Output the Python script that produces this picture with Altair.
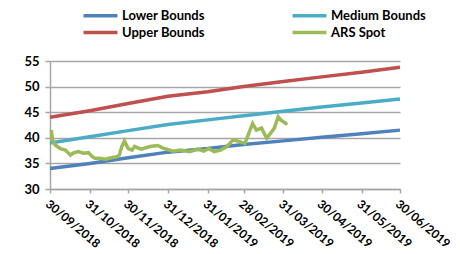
import altair as alt
import pandas as pd

month_ends = ["2018-09-30", "2018-10-31", "2018-11-30", "2018-12-31", "2019-01-31",
              "2019-02-28", "2019-03-31", "2019-04-30", "2019-05-31", "2019-06-30"]
lower_bounds = [34.0, 35.0, 36.1, 37.2, 37.9, 38.7, 39.4, 40.1, 40.8, 41.5]
medium_bounds = [39.0, 40.2, 41.4, 42.6, 43.5, 44.3, 45.2, 46.0, 46.8, 47.6]
upper_bounds = [44.0, 45.3, 46.7, 48.1, 49.0, 50.0, 51.0, 51.9, 52.8, 53.8]

spot_dates = ["2018-10-01", "2018-10-02", "2018-10-04", "2018-10-08", "2018-10-12",
              "2018-10-16", "2018-10-18", "2018-10-22", "2018-10-26", "2018-10-30",
              "2018-11-02", "2018-11-04", "2018-11-08", "2018-11-12", "2018-11-17",
              "2018-11-21", "2018-11-23", "2018-11-25", "2018-11-27", "2018-11-30",
              "2018-12-03", "2018-12-05", "2018-12-10", "2018-12-17", "2018-12-23",
              "2018-12-28", "2019-01-04", "2019-01-10", "2019-01-17", "2019-01-23",
              "2019-01-28", "2019-02-01", "2019-02-05", "2019-02-10", "2019-02-15",
              "2019-02-20", "2019-02-24", "2019-03-01", "2019-03-03", "2019-03-07",
              "2019-03-10", "2019-03-14", "2019-03-18", "2019-03-22", "2019-03-24",
              "2019-03-27", "2019-03-29", "2019-04-02", "2019-04-03"]
ars_spot = [41.5, 39.6, 38.6, 37.9, 37.6, 36.6, 37.0, 37.3, 37.0, 37.1,
            36.3, 36.0, 36.0, 35.8, 36.1, 36.3, 36.6, 38.3, 39.4, 37.9,
            37.6, 38.3, 37.8, 38.3, 38.5, 37.9, 37.4, 37.6, 37.3, 37.8,
            37.4, 37.9, 37.3, 37.6, 38.3, 39.6, 39.3, 38.9, 40.2, 42.8,
            41.5, 41.9, 39.9, 41.2, 41.9, 44.1, 43.5, 42.8, 43.0]

# legend order (column-major with 2 columns): Lower, Upper | Medium, ARS
series_names = ["Lower Bounds", "Upper Bounds", "Medium Bounds", "ARS Spot"]
series_colors = ["#4F81BD", "#C0504D", "#4BACC6", "#9BBB59"]
tick_labels_y = [30, 35, 40, 45, 50, 55]

bounds_rows = []
for name, vals in [("Lower Bounds", lower_bounds), ("Medium Bounds", medium_bounds),
                   ("Upper Bounds", upper_bounds)]:
    for d, v in zip(month_ends, vals):
        bounds_rows.append({"date": d, "value": v, "series": name})
bounds_df = pd.DataFrame(bounds_rows)
spot_df = pd.DataFrame({"date": spot_dates, "value": ars_spot, "series": "ARS Spot"})

FONT = "Lato"

x_values = []
for d in month_ends:
    y, m, dd = d.split("-")
    x_values.append(alt.DateTime(year=int(y), month=int(m), date=int(dd), utc=True))

x_enc = alt.X("date:T",
              scale=alt.Scale(type="utc", domain=[alt.DateTime(year=2018, month=9, date=30, utc=True),
                                                   alt.DateTime(year=2019, month=6, date=30, utc=True)]),
              axis=alt.Axis(values=x_values, labelExpr="utcFormat(datum.value, '%d/%m/%Y')",
                            labelAngle=40, labelAlign="left", labelBaseline="top",
                            labelFont=FONT, labelFontWeight="bold", labelFontSize=12,
                            labelColor="#000000", labelPadding=5, grid=False,
                            domainColor="#a6a6a6", domainWidth=1.5, tickColor="#a6a6a6",
                            tickWidth=1.5, tickSize=4, title=None, labelOverlap=False,
                            labelBound=False, labelFlush=False))
y_enc = alt.Y("value:Q",
              scale=alt.Scale(domain=[30, 55], nice=False, zero=False),
              axis=alt.Axis(values=tick_labels_y, labelFont=FONT, labelFontWeight="bold",
                            labelFontSize=13, labelColor="#000000", labelPadding=6,
                            grid=True, gridColor="#a6a6a6", gridWidth=1.5,
                            domainColor="#a6a6a6", domainWidth=1.5, tickColor="#a6a6a6",
                            tickWidth=1.5, tickSize=5, title=None))
color_enc = alt.Color("series:N",
                      scale=alt.Scale(domain=series_names, range=series_colors),
                      legend=alt.Legend(orient="none", legendX=43, legendY=-53, columns=2,
                                        columnPadding=80, rowPadding=2, title=None,
                                        symbolType="M-3,0H3", symbolSize=128,
                                        symbolStrokeWidth=3.5, labelFont=FONT,
                                        labelFontWeight="bold", labelFontSize=13,
                                        labelColor="#000000", labelOffset=14))

bounds = alt.Chart(bounds_df).mark_line(strokeWidth=3.5).encode(x=x_enc, y=y_enc, color=color_enc)
spot = alt.Chart(spot_df).mark_line(strokeWidth=3.5).encode(x=x_enc, y=y_enc, color=color_enc)

chart = alt.layer(bounds, spot).properties(
    width=350, height=128,
    autosize=alt.AutoSizeParams(type="none"),
    padding={"left": 42, "top": 53, "right": 52, "bottom": 65},
).configure_view(stroke=None)

chart.save("out.html", embed_options={"renderer": "svg", "actions": False})
